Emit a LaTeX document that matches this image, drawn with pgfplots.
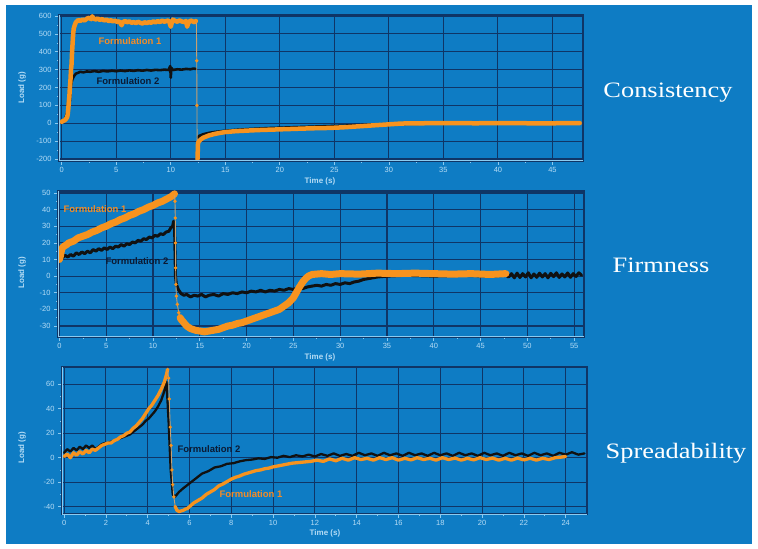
\documentclass[border=0pt]{standalone}
\usepackage{pgfplots}
\pgfplotsset{compat=1.18}
\usepackage{fontspec}
\setmainfont{Liberation Sans}
\newfontfamily\seriffont{Liberation Serif}
\definecolor{bgblue}{HTML}{0E7CC4}
\definecolor{gridnavy}{HTML}{0F3566}
\definecolor{axlight}{HTML}{8CCBF0}
\definecolor{ticklab}{HTML}{B5DCF5}
\definecolor{sorange}{HTML}{F7931E}
\definecolor{sblack}{HTML}{111111}
\definecolor{f2text}{HTML}{0B1A33}
\definecolor{f1text}{HTML}{F28C28}
\definecolor{dropline}{HTML}{C8A070}
\pgfplotsset{
  panel/.style={
    scale only axis, anchor=south west,
    axis line style={draw=gridnavy, line width=1.1pt},
    grid=major,
    major grid style={draw=gridnavy, line width=1.1pt},
    tick align=outside, tick pos=left,
    major tick length=4pt, minor tick length=2pt,
    every tick/.style={draw=axlight, line width=0.7pt},
    every minor tick/.style={draw=axlight, line width=0.6pt},
    tick label style={font=\fontsize{7.5}{8}\selectfont, text=ticklab},
    /pgf/number format/assume math mode=true,
    xticklabel style={yshift=1pt},
    after end axis/.code={
      \draw[axlight, line width=1pt] (rel axis cs:0,1) -- (rel axis cs:0,0) -- (rel axis cs:1,0);
    },
  },
  blk/.style={sblack, line width=1.6pt, no marks, line join=round, line cap=round},
  org/.style={sorange, line width=3pt, no marks, line join=round, line cap=round},
  drop/.style={dropline, line width=0.9pt, mark=*, mark size=1.2pt, mark options={fill=sorange, draw=sorange}},
}
\begin{document}
\begin{tikzpicture}[x=1pt,y=1pt]
\fill[white] (0pt,0pt) rectangle (758pt,549pt);
\fill[bgblue] (6pt,5pt) rectangle (752pt,544pt);

% ---------------- Consistency ----------------
\begin{axis}[panel, at={(59pt,388pt)}, width=524pt, height=146pt,
  xmin=-0.25, xmax=47.8, ymin=-211, ymax=605.6,
  xtick={0,5,...,45}, minor x tick num=1,
  ytick={-200,-100,...,600}, minor y tick num=1]
\addplot[blk, line width=2.6pt] coordinates {(0,12) (0.1,15) (0.2,18) (0.3,25) (0.4,40) (0.5,60) (0.55,90) (0.6,130) (0.65,100) (0.7,150) (0.75,120) (0.8,180) (0.85,210) (0.9,230) (1.0,250) (1.1,262) (1.2,270) (1.3,278) (1.5,282) (1.7,288) (2.0,285) (2.3,290) (2.6,288) (3.0,292) (3.4,288) (3.8,293) (4.2,290) (4.6,294) (5.0,291) (5.4,295) (5.8,292) (6.2,296) (6.6,293) (7.0,297) (7.4,294) (7.8,298) (8.2,295) (8.6,299) (9.0,297) (9.4,300) (9.8,298) (9.95,320) (10.0,255) (10.05,310) (10.2,298) (10.6,302) (11.0,300) (11.4,304) (11.8,302) (12.1,306) (12.3,304)};
\addplot[blk, line width=3pt] coordinates {(12.5,-80) (12.6,-72) (13,-62) (13.5,-55) (14,-50) (15,-43) (16,-38) (17,-34) (18,-31) (19,-28) (20,-26) (22,-22) (24,-18) (26,-14) (28,-10) (30,-5) (32,-2) (34,0) (36,0)};
\addplot[org, line width=4.5pt] coordinates {(0,8) (0.1,12) (0.2,15) (0.3,18) (0.4,25) (0.5,35) (0.55,50) (0.6,80) (0.65,120) (0.7,150) (0.75,200) (0.8,240) (0.85,300) (0.9,330) (0.95,400) (1.0,450) (1.05,500) (1.1,530) (1.2,550) (1.3,565) (1.4,570) (1.5,578) (1.7,572) (1.9,580) (2.1,575) (2.3,585) (2.5,590) (2.7,582) (2.8,598) (2.9,588) (3.1,580) (3.3,586) (3.5,578) (3.7,583) (3.9,575) (4.1,580) (4.3,572) (4.5,576) (4.7,570) (4.9,574) (5.1,566) (5.3,570) (5.5,548) (5.6,565) (5.8,572) (6.0,565) (6.2,570) (6.4,562) (6.6,566) (6.8,560) (7.0,568) (7.2,562) (7.4,558) (7.6,565) (7.8,560) (8.0,566) (8.2,562) (8.4,570) (8.6,564) (8.8,572) (9.0,566) (9.2,574) (9.4,568) (9.6,572) (9.8,575) (9.9,560) (10.0,540) (10.1,565) (10.2,580) (10.4,572) (10.6,568) (10.8,575) (11.0,570) (11.2,566) (11.4,572) (11.5,540) (11.6,560) (11.8,575) (12.0,570) (12.2,565) (12.3,572)};
\addplot[drop, mark repeat=1] coordinates {(12.35,572) (12.38,350) (12.4,100) (12.42,-200)};
\addplot[org, line width=4.5pt] coordinates {(12.45,-200) (12.5,-110) (12.6,-100) (12.8,-88) (13.0,-80) (13.5,-68) (14,-60) (14.5,-54) (15,-49) (16,-44) (17,-41) (18,-38) (19,-36) (20,-34) (21,-32) (22,-30) (23,-28) (24,-27) (25,-25) (26,-22) (27,-18) (28,-14) (29,-10) (30,-6) (31,-2) (32,0) (33,0) (35,1) (38,0) (40,1) (43,0) (45,0) (47.5,1)};
\end{axis}

% ---------------- Firmness ----------------
\begin{axis}[panel, at={(58pt,212pt)}, width=526pt, height=146pt,
  xmin=-0.15, xmax=56.05, ymin=-36.6, ymax=51.2,
  xtick={0,5,...,55}, minor x tick num=1,
  ytick={-30,-20,...,50}, minor y tick num=1]
\addplot[blk, line width=3pt] coordinates {(0,10) (0.3,11) (0.6,12.5) (0.9,11.5) (1.2,13) (1.5,12) (1.8,14) (2.1,13) (2.4,14.5) (2.7,13.5) (3.0,15) (3.3,14) (3.6,16) (3.9,15) (4.2,16.5) (4.5,15.5) (4.8,17) (5.1,16) (5.4,17.5) (5.7,16.5) (6.0,18) (6.3,17.5) (6.6,19) (6.9,18) (7.2,19.5) (7.5,19) (7.8,20.5) (8.1,20) (8.4,21.5) (8.7,21) (9.0,22.5) (9.3,22) (9.6,23.5) (9.9,23) (10.2,24.5) (10.5,24) (10.8,25.5) (11.1,25) (11.4,26.5) (11.7,27) (11.9,29) (12.1,30) (12.2,33) (12.3,31) (12.4,0) (12.5,-5) (12.7,-8) (13.0,-10.5) (13.3,-11.5) (13.6,-11) (14,-12.5) (14.4,-11.5) (14.8,-12) (15.2,-11) (15.6,-12.5) (16,-11.5) (16.5,-11) (17,-12) (17.5,-10.5) (18,-11) (18.5,-10) (19,-10.5) (19.5,-9.5) (20,-10) (20.5,-9) (21,-9.5) (21.5,-8.5) (22,-9.5) (22.5,-8.5) (23,-9) (23.5,-8) (24,-8.5) (24.5,-7.5) (25,-8) (25.5,-7) (26,-7.5) (26.5,-6.5) (27,-6) (27.5,-5.5) (28,-6) (28.5,-5) (29,-5.5) (29.5,-4.5) (30,-5) (30.5,-4) (31,-4.5) (31.5,-3.5) (32,-3) (32.5,-2) (33,-1.5) (33.5,-1) (34,-0.5) (35,0) (37,0.5) (40,0) (43,0.5) (46,0) (47.7,0.5) (48,-0.5) (48.3,1.5) (48.6,-1) (48.9,1.8) (49.2,-0.8) (49.5,1.5) (49.8,-0.5) (50.1,2) (50.4,-1) (50.7,1.3) (51,-0.7) (51.3,1.8) (51.6,-0.5) (51.9,1.5) (52.2,-1) (52.5,1.7) (52.8,-0.3) (53.1,2) (53.4,-0.8) (53.7,1.3) (54,-0.5) (54.3,1.9) (54.6,-0.7) (54.9,1.5) (55.2,-0.2) (55.5,2) (55.8,0.5)};
\addplot[org, line width=7pt] coordinates {(0,10) (0.1,12) (0.2,15) (0.3,17) (0.5,18) (0.8,19) (1.0,20) (1.5,21) (2.0,23) (2.5,24) (3.0,25) (3.5,26.5) (4.0,27.5) (4.5,29) (5.0,30) (5.5,31.5) (6.0,32.5) (6.5,34) (7.0,35) (7.5,36.5) (8.0,37.5) (8.5,39) (9.0,40) (9.5,41.5) (10.0,42.5) (10.5,44) (11.0,45) (11.5,46.5) (12.0,48) (12.3,49.5)};
\addplot[drop] coordinates {(12.3,49.5) (12.35,45) (12.38,35) (12.4,20) (12.42,5) (12.45,-5) (12.5,-12) (12.6,-17) (12.75,-22) (12.9,-25)};
\addplot[org, line width=7pt] coordinates {(12.9,-25) (13.0,-26) (13.3,-28) (13.6,-30) (14,-31.5) (14.5,-32.5) (15,-33) (15.5,-33.5) (16,-33) (16.5,-32.5) (17,-32) (17.5,-31) (18,-30) (18.5,-29.5) (19,-28.5) (19.5,-28) (20,-27) (20.5,-26) (21,-25) (21.5,-24) (22,-23) (22.5,-22) (23,-21) (23.5,-20) (24,-18) (24.5,-16) (25,-13) (25.3,-10) (25.6,-7) (26,-3.5) (26.3,-1.5) (26.6,0) (27,1) (28,1.5) (29,1) (30,1.5) (32,1.2) (34,1.8) (36,1.5) (38,1.8) (40,1.5) (42,1.2) (44,1.5) (46,1) (47.7,1.5)};
\end{axis}

% ---------------- Spreadability ----------------
\begin{axis}[panel, at={(62pt,35pt)}, width=525pt, height=147pt,
  xmin=-0.1, xmax=25.02, ymin=-46, ymax=74.1,
  xtick={0,2,...,24}, minor x tick num=1,
  ytick={-40,-20,...,60}, minor y tick num=1]
\addplot[blk, line width=2.3pt] coordinates {(0,4) (0.15,7) (0.3,5) (0.45,8) (0.6,6) (0.75,9) (0.9,7) (1.05,10) (1.2,8) (1.35,10) (1.5,7) (1.65,9) (1.8,11) (1.95,12) (2.1,12) (2.25,13) (2.4,14) (2.55,15) (2.7,16) (2.85,17) (3.0,18) (3.15,19) (3.3,21) (3.45,23) (3.6,25) (3.75,27) (3.9,30) (4.05,32) (4.2,35) (4.35,38) (4.5,42) (4.65,47) (4.75,52) (4.85,58) (4.9,62) (5.0,30) (5.1,-10) (5.2,-30) (5.3,-32) (5.5,-28) (5.7,-25) (6.0,-21) (6.3,-17) (6.6,-13) (6.9,-11) (7.2,-8) (7.5,-7) (7.8,-5) (8.1,-4.5) (8.4,-3) (8.7,-2) (9.0,-1.5) (9.3,-0.5) (9.6,-1) (9.9,0.5) (10.2,0) (10.5,1.5) (10.8,0.5) (11.1,2) (11.4,1) (11.7,2.5) (12.0,1) (12.3,3) (12.6,1.5) (12.9,3.5) (13.2,1.5) (13.5,3) (13.8,1.5) (14.1,4) (14.4,2) (14.7,3.5) (15.0,1.5) (15.3,4) (15.6,2) (15.9,3.5) (16.2,1.5) (16.5,4) (16.8,2) (17.1,3.5) (17.4,1.5) (17.7,4) (18.0,2) (18.3,3.5) (18.6,1.5) (18.9,4) (19.2,2) (19.5,3.5) (19.8,1.5) (20.1,4) (20.4,2) (20.7,3.5) (21.0,1.5) (21.3,4) (21.6,2) (21.9,3.5) (22.2,1.5) (22.5,4) (22.8,2) (23.1,3.5) (23.4,1.5) (23.7,4) (24.0,2.5) (24.3,4.5) (24.6,2.5) (24.9,3.5)};
\addplot[org, line width=3.3pt] coordinates {(0,1) (0.15,3) (0.3,0) (0.45,4) (0.6,2) (0.75,5) (0.9,3) (1.05,6) (1.2,4) (1.35,7) (1.5,6) (1.65,8) (1.8,10) (1.95,11) (2.1,12) (2.25,12) (2.4,14) (2.55,15) (2.7,17) (2.85,18) (3.0,20) (3.15,21) (3.3,24) (3.45,26) (3.6,29) (3.75,32) (3.9,36) (4.05,40) (4.2,43) (4.35,47) (4.5,51) (4.65,56) (4.8,62) (4.9,68) (4.95,72)};
\addplot[drop] coordinates {(4.95,72) (5.0,65) (5.03,48) (5.08,25) (5.12,10) (5.16,-10) (5.2,-22) (5.25,-32) (5.32,-40)};
\addplot[org, line width=3.3pt] coordinates {(5.32,-40) (5.4,-43) (5.5,-44) (5.6,-43.5) (5.7,-43) (5.8,-42) (5.9,-41.5) (6.0,-40) (6.2,-37) (6.4,-35) (6.6,-33) (6.8,-30) (7.0,-28) (7.2,-26) (7.4,-23) (7.6,-21.5) (7.8,-19.5) (8.0,-17.5) (8.2,-16) (8.4,-15) (8.6,-13.5) (8.8,-12.5) (9.0,-11.5) (9.2,-10.5) (9.4,-10) (9.6,-9) (9.8,-8.5) (10.0,-7.5) (10.3,-6.5) (10.6,-5.5) (10.9,-4.5) (11.2,-4) (11.5,-3.5) (11.8,-3) (12.1,-2) (12.4,-3) (12.7,-1) (13.0,-2.5) (13.3,-0.5) (13.6,-2) (13.9,0) (14.2,-1.5) (14.5,-0.5) (14.8,-2) (15.1,0) (15.4,-1.5) (15.7,0) (16.0,-2) (16.3,-0.5) (16.6,-1.8) (16.9,0) (17.2,-1.5) (17.5,-0.5) (17.8,-2) (18.1,0) (18.4,-1.5) (18.7,-0.3) (19.0,-2) (19.3,-0.5) (19.6,-1.8) (19.9,0) (20.2,-1.5) (20.5,-0.3) (20.8,-2) (21.1,-0.5) (21.4,-2) (21.7,-0.3) (22.0,-1.8) (22.3,-0.5) (22.6,-2) (22.9,-0.5) (23.2,-1.5) (23.5,0) (23.8,0.5) (24.0,1)};
\end{axis}

% ---------------- texts ----------------
\tikzset{axlab/.style={text=ticklab, font=\bfseries\fontsize{8}{9}\selectfont}}
\node[axlab, rotate=90] at (22pt,461pt) {Load (g)};
\node[axlab, rotate=90] at (22pt,276pt) {Load (g)};
\node[axlab, rotate=90] at (22pt,101pt) {Load (g)};
\node[axlab] at (320pt,368pt) {Time (s)};
\node[axlab] at (320pt,192pt) {Time (s)};
\node[axlab] at (325pt,16pt) {Time (s)};

\tikzset{flab/.style={font=\bfseries\fontsize{9.5}{10}\selectfont}}
\node[flab, text=f1text] at (130pt,508pt) {Formulation 1};
\node[flab, text=f2text] at (128pt,468pt) {Formulation 2};
\node[flab, text=f1text] at (95pt,340pt) {Formulation 1};
\node[flab, text=f2text] at (137pt,288pt) {Formulation 2};
\node[flab, text=f2text] at (209pt,100pt) {Formulation 2};
\node[flab, text=f1text] at (251pt,55pt) {Formulation 1};

\tikzset{ttl/.style={text=white, font=\seriffont\fontsize{22}{24}\selectfont, xscale=1.2}}
\node[ttl] at (668pt,456pt) {Consistency};
\node[ttl] at (661pt,284pt) {Firmness};
\node[ttl] at (676pt,96pt) {Spreadability};
\end{tikzpicture}
\end{document}
